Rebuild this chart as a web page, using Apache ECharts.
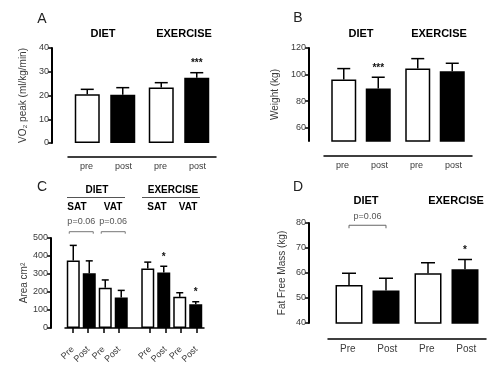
<!DOCTYPE html>
<html>
<head>
<meta charset="utf-8">
<script src="https://cdn.jsdelivr.net/npm/echarts@6/dist/echarts.min.js"></script>
<style>
  html, body { margin: 0; padding: 0; background: #fff; }
  #chart { width: 498px; height: 370px; }
</style>
</head>
<body>
<div id="chart"></div>
<script>
// group names and x labels
const groups = ['DIET', 'EXERCISE'];
const lowerLabels = ['pre', 'post', 'pre', 'post'];
const upperLabels = ['Pre', 'Post', 'Pre', 'Post'];
const areaLabels = ['Pre', 'Post', 'Pre', 'Post', '', 'Pre', 'Post', 'Pre', 'Post'];

// A - VO2 peak (ml/kg/min)
const vo2Pre = [20.5, 23.4];
const vo2PreErr = [2.1, 2.0];
const vo2Post = [20.3, 27.5];
const vo2PostErr = [3.0, 2.1];
const vo2PostStars = ['', '***'];

// B - weight (kg)
const weightPre = [96.2, 104.5];
const weightPreErr = [8.3, 7.5];
const weightPost = [89.5, 102.5];
const weightPostErr = [8.5, 6.0];
const weightPostStars = ['***', ''];
const weightTicks = [60, 80, 100, 120];

// C - area cm2 (SAT / VAT)
const satPre = [375, 330];
const satPreErr = [84, 36];
const satPost = [304, 308];
const satPostErr = [69, 35];
const vatPre = [224, 173];
const vatPreErr = [43, 23];
const vatPost = [170, 132];
const vatPostErr = [39, 14];
const satPostStars = ['', '*'];
const vatPostStars = ['', '*'];

// D - fat free mass (kg)
const ffmPre = [55.2, 59.9];
const ffmPreErr = [4.7, 4.2];
const ffmPost = [53.0, 61.5];
const ffmPostErr = [4.9, 3.9];
const ffmPostStars = ['', '*'];

const font = 'Liberation Sans, Arial, sans-serif';
const grey = '#3a3a3a';

// bar offset inside a category for series k of n
function shiftOf(k, n, bw, gap) {
    return (k - (n - 1) / 2) * bw * (1 + gap);
}

function barSeries(xi, yi, values, bw, gap, filled) {
    return {
        type: 'bar', xAxisIndex: xi, yAxisIndex: yi,
        barWidth: bw, barGap: (gap * 100) + '%',
        data: values,
        itemStyle: filled
            ? { color: '#000', borderColor: '#000', borderWidth: 1.5 }
            : { color: '#fff', borderColor: '#000', borderWidth: 1.5 },
        silent: true
    };
}

// up-only error bars with cap, optional stars above
function errSeries(xi, yi, values, errs, shift, capW, stars) {
    return {
        type: 'custom', xAxisIndex: xi, yAxisIndex: yi, clip: false, z: 5, silent: true,
        data: values.map((v, i) => [i, v, v + errs[i]]),
        renderItem: function (params, api) {
            const b = api.coord([api.value(0), api.value(1)]);
            const t = api.coord([api.value(0), api.value(2)]);
            const x = b[0] + shift;
            const st = { stroke: '#000', lineWidth: 1.5 };
            const kids = [
                { type: 'line', shape: { x1: x, y1: b[1], x2: x, y2: t[1] }, style: st },
                { type: 'line', shape: { x1: x - capW / 2, y1: t[1], x2: x + capW / 2, y2: t[1] }, style: st }
            ];
            const s = stars ? stars[params.dataIndex] : '';
            if (s) {
                kids.push({
                    type: 'text',
                    style: { text: s, x: x, y: t[1] - 4, align: 'center', verticalAlign: 'bottom',
                             font: 'bold 10px ' + font, fill: '#111' }
                });
            }
            return { type: 'group', children: kids };
        }
    };
}

// p-value bracket between two bars of one category
function bracketSeries(xi, yi, cats, yVal, s1, s2) {
    return {
        type: 'custom', xAxisIndex: xi, yAxisIndex: yi, clip: false, z: 5, silent: true,
        data: cats.map(c => [c, yVal]),
        renderItem: function (params, api) {
            const p = api.coord([api.value(0), api.value(1)]);
            const x1 = p[0] + s1, x2 = p[0] + s2, y = p[1];
            return {
                type: 'group', children: [
                    { type: 'polyline', shape: { points: [[x1, y + 3], [x1, y], [x2, y], [x2, y + 3]] }, style: { stroke: '#666', lineWidth: 1, fill: null } },
                    { type: 'text', style: { text: 'p=0.06', x: (x1 + x2) / 2, y: y - 4, align: 'center', verticalAlign: 'bottom',
                                             font: '9px ' + font, fill: '#555' } }
                ]
            };
        }
    };
}

function yAxisOf(gi, offset, name, nameGap, extra) {
    return Object.assign({
        type: 'value', gridIndex: gi, offset: offset,
        name: name, nameLocation: 'middle', nameGap: nameGap,
        nameTextStyle: { fontFamily: font, fontSize: 10, color: grey },
        axisLine: { show: true, lineStyle: { color: '#000', width: 2 } },
        axisTick: { show: true, length: 4, lineStyle: { color: '#000', width: 1.5 } },
        axisLabel: { fontFamily: font, fontSize: 9, color: grey, margin: 3 },
        splitLine: { show: false }
    }, extra);
}

function barAxis(gi) {
    return { type: 'category', gridIndex: gi, data: groups, position: 'top', show: false };
}

function labelAxis(gi, labels, offset, size, extra) {
    return Object.assign({
        type: 'category', gridIndex: gi, data: labels, position: 'bottom', offset: offset,
        axisLine: { show: true, lineStyle: { color: '#000', width: 1.5 } },
        axisTick: { show: false },
        axisLabel: { fontFamily: font, fontSize: size, color: grey, margin: 5, interval: 0 }
    }, extra);
}

function txt(x, y, s, size, bold, color) {
    return {
        type: 'text', x: x, y: y, silent: true,
        style: { text: s, align: 'center', verticalAlign: 'middle',
                 font: (bold ? 'bold ' : '') + size + 'px ' + font, fill: color || '#000' }
    };
}

function hline(x1, x2, y, color) {
    return { type: 'line', silent: true, shape: { x1: x1, y1: y, x2: x2, y2: y },
             style: { stroke: color || '#555', lineWidth: 1 } };
}

const bwA = 25, gapA = 0.42;
const bwB = 25, gapB = 0.38;
const bwC = 13, gapC = 0.23;
const bwD = 27, gapD = 0.37;

const chart = echarts.init(document.getElementById('chart'));
chart.setOption({
    animation: false,
    backgroundColor: '#fff',
    grid: [
        { left: 68, top: 48, width: 148, height: 95 },
        { left: 324, top: 48, width: 148, height: 93 },
        { left: 60, top: 238, width: 149, height: 90 },
        { left: 65, top: 238, width: 139, height: 90 },
        { left: 328, top: 223, width: 158, height: 100 }
    ],
    xAxis: [
        barAxis(0),
        labelAxis(0, lowerLabels, 14, 9),
        barAxis(1),
        labelAxis(1, lowerLabels, 15, 9),
        barAxis(2),
        labelAxis(3, areaLabels, 14, 9, {
            axisTick: { show: true, alignWithLabel: true, length: 5, interval: (i, v) => v !== '',
                        lineStyle: { color: '#000', width: 1.5 } },
            axisLabel: { fontFamily: font, fontSize: 9, color: grey, rotate: 45, margin: 6, interval: 0 }
        }),
        barAxis(4),
        labelAxis(4, upperLabels, 16, 10)
    ],
    yAxis: [
        yAxisOf(0, 16, 'VO\u2082 peak (ml/kg/min)', 24, { min: 0, max: 40, interval: 10 }),
        yAxisOf(1, 15, 'Weight (kg)', 29, {
            min: 50, max: 120,
            axisTick: { show: true, length: 4, customValues: weightTicks, lineStyle: { color: '#000', width: 1.5 } },
            axisLabel: { fontFamily: font, fontSize: 9, color: grey, margin: 3, customValues: weightTicks }
        }),
        yAxisOf(2, 9, 'Area cm\u00b2', 21, { min: 0, max: 500, interval: 100 }),
        { type: 'value', gridIndex: 3, show: false },
        yAxisOf(4, 19, 'Fat Free Mass (kg)', 22, { min: 40, max: 80, interval: 10 })
    ],
    series: [
        // A
        barSeries(0, 0, vo2Pre, bwA, gapA, false),
        barSeries(0, 0, vo2Post, bwA, gapA, true),
        errSeries(0, 0, vo2Pre, vo2PreErr, shiftOf(0, 2, bwA, gapA), 13),
        errSeries(0, 0, vo2Post, vo2PostErr, shiftOf(1, 2, bwA, gapA), 13, vo2PostStars),
        // B
        barSeries(2, 1, weightPre, bwB, gapB, false),
        barSeries(2, 1, weightPost, bwB, gapB, true),
        errSeries(2, 1, weightPre, weightPreErr, shiftOf(0, 2, bwB, gapB), 13),
        errSeries(2, 1, weightPost, weightPostErr, shiftOf(1, 2, bwB, gapB), 13, weightPostStars),
        // C
        barSeries(4, 2, satPre, bwC, gapC, false),
        barSeries(4, 2, satPost, bwC, gapC, true),
        barSeries(4, 2, vatPre, bwC, gapC, false),
        barSeries(4, 2, vatPost, bwC, gapC, true),
        errSeries(4, 2, satPre, satPreErr, shiftOf(0, 4, bwC, gapC), 7),
        errSeries(4, 2, satPost, satPostErr, shiftOf(1, 4, bwC, gapC), 7, satPostStars),
        errSeries(4, 2, vatPre, vatPreErr, shiftOf(2, 4, bwC, gapC), 7),
        errSeries(4, 2, vatPost, vatPostErr, shiftOf(3, 4, bwC, gapC), 7, vatPostStars),
        {
            type: 'custom', xAxisIndex: 4, yAxisIndex: 2, clip: false, silent: true,
            data: [[0, 535], [0, 535]],
            renderItem: function (params, api) {
                const k = params.dataIndex * 2;
                const p = api.coord([api.value(0), api.value(1)]);
                const x1 = p[0] + shiftOf(k, 4, bwC, gapC) - 4;
                const x2 = p[0] + shiftOf(k + 1, 4, bwC, gapC) + 4;
                const y = p[1];
                return {
                    type: 'group', children: [
                        { type: 'polyline', shape: { points: [[x1, y + 2], [x1, y], [x2, y], [x2, y + 2]] },
                          style: { stroke: '#777', lineWidth: 1, fill: null } },
                        { type: 'text', style: { text: 'p=0.06', x: (x1 + x2) / 2, y: y - 6, align: 'center',
                                                 verticalAlign: 'bottom', font: '9px ' + font, fill: '#555' } }
                    ]
                };
            }
        },
        // D
        barSeries(6, 4, ffmPre, bwD, gapD, false),
        barSeries(6, 4, ffmPost, bwD, gapD, true),
        errSeries(6, 4, ffmPre, ffmPreErr, shiftOf(0, 2, bwD, gapD), 14),
        errSeries(6, 4, ffmPost, ffmPostErr, shiftOf(1, 2, bwD, gapD), 14, ffmPostStars),
        bracketSeries(6, 4, [0], 79.1, shiftOf(0, 2, bwD, gapD), shiftOf(1, 2, bwD, gapD))
    ],
    graphic: [
        txt(42, 19, 'A', 14, false, '#222'),
        txt(298, 18, 'B', 14, false, '#222'),
        txt(42, 187, 'C', 14, false, '#222'),
        txt(298, 187, 'D', 14, false, '#222'),
        txt(103, 34, 'DIET', 11, true),
        txt(184, 34, 'EXERCISE', 11, true),
        txt(361, 34, 'DIET', 11, true),
        txt(439, 34, 'EXERCISE', 11, true),
        txt(366, 201, 'DIET', 11, true),
        txt(456, 201, 'EXERCISE', 11, true),
        txt(97, 190, 'DIET', 10, true),
        txt(173, 190, 'EXERCISE', 10, true),
        hline(67, 125, 197.5),
        hline(142, 200, 197.5),
        txt(77, 207, 'SAT', 10, true),
        txt(113, 207, 'VAT', 10, true),
        txt(157, 207, 'SAT', 10, true),
        txt(188, 207, 'VAT', 10, true)
    ]
});
</script>
</body>
</html>
